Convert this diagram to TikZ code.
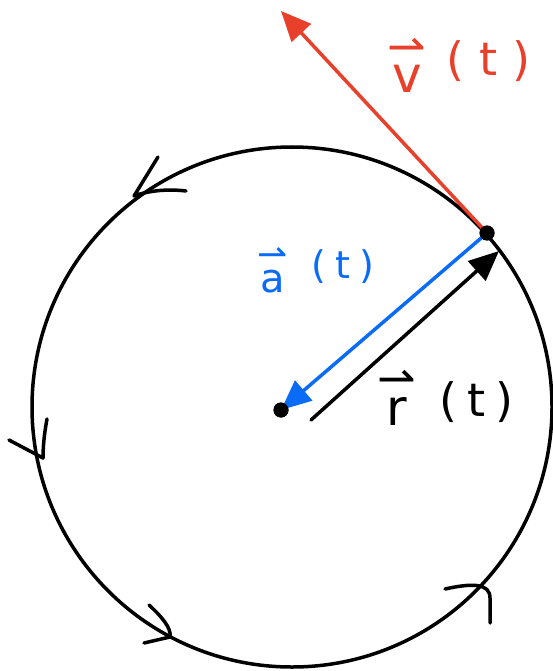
\documentclass[tikz,border=0pt]{standalone}
\usepackage{fontspec}
\setmainfont{DejaVu Sans}
\usetikzlibrary{arrows.meta}
\definecolor{vred}{HTML}{E8402A}
\definecolor{ablue}{HTML}{0A6CF6}
% #1 letter, #2 letter size, #3 harpoon size
\newcommand{\vecletter}[3]{\shortstack{{\fontsize{#3}{#3}\selectfont ⇀}\\{\fontsize{#2}{#2}\selectfont #1}}}
% #1 size, #2 raise, #3 inner gap
\newcommand{\argt}[3]{\raisebox{#2}{\fontsize{#1}{#1}\selectfont(\hspace{#3}t\hspace{#3})}}
\begin{document}
\begin{tikzpicture}[x=1pt,y=-1pt, line width=3.5pt, line cap=round, line join=round,
  vecarrow/.style={-{Triangle[length=30pt,width=26pt]}},
  lbl/.style={anchor=base west, inner sep=0pt},
  blob/.style={circle, fill=black, inner sep=0pt, minimum size=15pt}]
\useasboundingbox (0,0) rectangle (553,671);
\coordinate (O) at (292,407);
\draw (O) circle[radius=260];
% direction ticks
\draw (158,157) -- (134,196) .. controls (150,190) and (170,189) .. (186,191);
\draw (47,419) .. controls (44,435) and (43,448) .. (43,458) -- (9,440);
\draw (149,605) .. controls (160,615) and (172,628) .. (170,637) -- (144,643);
\draw (445,589) .. controls (472,583) and (490,583) .. (490,598) -- (490,623);
% points
\coordinate (vtip) at (281,11);
\coordinate (rs) at (311,420);
\coordinate (rt) at (499,251);
\node[blob] (P) at (487,233) {};
\node[blob] (C) at (281,410) {};
% vectors
\draw[vecarrow, vred] (P.center) -- (vtip);
\draw[vecarrow, ablue] (P.center) -- (C.center);
\draw[vecarrow] (rs) -- (rt);
\node[blob] at (P.center) {};
\node[blob] at (C.center) {};
% labels
\node[lbl, text=vred] (vl) at (386,93) {\vecletter{v}{50pt}{46pt}\hspace{20pt}\argt{46pt}{17pt}{15pt}};
\node[lbl, text=ablue] (al) at (256,292) {\vecletter{a}{40pt}{36pt}\hspace{24pt}\argt{38pt}{14pt}{9pt}};
\node[lbl] (rl) at (376,425) {\vecletter{r}{50pt}{46pt}\hspace{23pt}\argt{46pt}{9pt}{10pt}};
\end{tikzpicture}
\end{document}
